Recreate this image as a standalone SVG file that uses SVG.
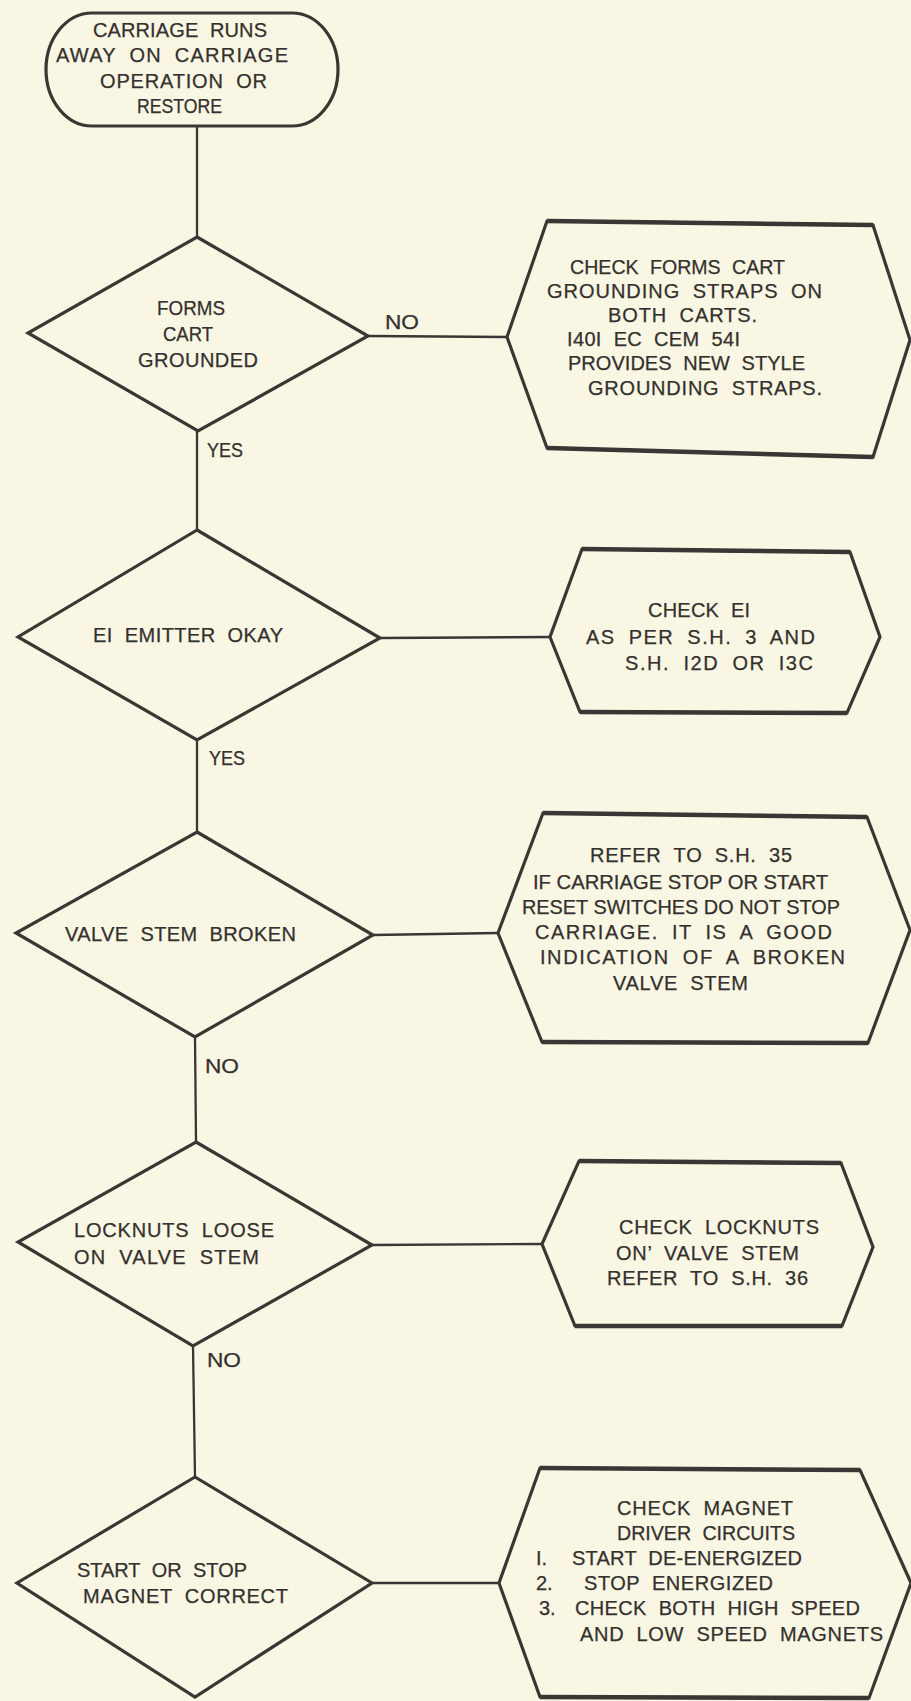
<svg xmlns="http://www.w3.org/2000/svg" width="911" height="1701" viewBox="0 0 911 1701">
<style>
.bg{fill:#f9f6e4}
.shape{fill:none;stroke:#3a3633;stroke-width:3.2;stroke-linejoin:miter}
.edge{fill:none;stroke:#3a3633;stroke-width:4.5;stroke-linecap:butt}
.conn{fill:none;stroke:#3a3633;stroke-width:2.3}
text{font-family:"Liberation Sans",Arial,sans-serif;font-size:20px;fill:#34302d;stroke:#34302d;stroke-width:0.25;word-spacing:6px}
.tight{word-spacing:0}
</style>
<rect class="bg" x="0" y="0" width="911" height="1701"/>
<g id="connectors">
<line class="conn" x1="197" y1="126" x2="197" y2="237"/>
<line class="conn" x1="368" y1="336" x2="507" y2="337"/>
<line class="conn" x1="197" y1="431" x2="197" y2="530"/>
<line class="conn" x1="380" y1="638" x2="550" y2="637"/>
<line class="conn" x1="197" y1="740" x2="197" y2="832"/>
<line class="conn" x1="373" y1="935" x2="498" y2="933"/>
<line class="conn" x1="195" y1="1037" x2="196" y2="1142"/>
<line class="conn" x1="372" y1="1245" x2="542" y2="1244"/>
<line class="conn" x1="193" y1="1346" x2="195" y2="1477"/>
<line class="conn" x1="372" y1="1583" x2="499" y2="1583"/>
<text x="385" y="329" textLength="34" lengthAdjust="spacingAndGlyphs">NO</text>
<text x="207" y="457" textLength="36" lengthAdjust="spacingAndGlyphs">YES</text>
<text x="209" y="765" textLength="36" lengthAdjust="spacingAndGlyphs">YES</text>
<text x="205" y="1073" textLength="34" lengthAdjust="spacingAndGlyphs">NO</text>
<text x="207" y="1367" textLength="34" lengthAdjust="spacingAndGlyphs">NO</text>
</g>
<g id="start">
<path class="shape" d="M92,13 L292,13 A46,56.5 0 0 1 292,126 L92,126 A46,56.5 0 0 1 92,13 Z"/>
<text x="93" y="37" textLength="174" lengthAdjust="spacing">CARRIAGE RUNS</text>
<text x="56" y="62" textLength="232" lengthAdjust="spacing">AWAY ON CARRIAGE</text>
<text x="100" y="88" textLength="167" lengthAdjust="spacing">OPERATION OR</text>
<text x="137" y="113" textLength="85" lengthAdjust="spacingAndGlyphs">RESTORE</text>
</g>
<g id="d1">
<polygon class="shape" points="197,237 368,336 198,431 28,333"/>
<text x="157" y="315" textLength="68" lengthAdjust="spacingAndGlyphs">FORMS</text>
<text x="163" y="341" textLength="50" lengthAdjust="spacingAndGlyphs">CART</text>
<text x="138" y="367" textLength="120" lengthAdjust="spacing">GROUNDED</text>
</g>
<g id="h1">
<polygon class="shape" points="547,221 873,225 910,340 873,457 547,448 507,337"/>
<line class="edge" x1="547" y1="221" x2="873" y2="225"/>
<line class="edge" x1="547" y1="448" x2="873" y2="457"/>
<text x="570" y="274" textLength="215" lengthAdjust="spacingAndGlyphs">CHECK FORMS CART</text>
<text x="547" y="298" textLength="275" lengthAdjust="spacing">GROUNDING STRAPS ON</text>
<text x="608" y="322" textLength="149" lengthAdjust="spacing">BOTH CARTS.</text>
<text x="567" y="346" textLength="173" lengthAdjust="spacing">I40I EC CEM 54I</text>
<text x="568" y="370" textLength="237" lengthAdjust="spacing">PROVIDES NEW STYLE</text>
<text x="588" y="395" textLength="234" lengthAdjust="spacing">GROUNDING STRAPS.</text>
</g>
<g id="d2">
<polygon class="shape" points="197,530 380,638 197,740 18,637"/>
<text x="93" y="642" textLength="190" lengthAdjust="spacing">EI EMITTER OKAY</text>
</g>
<g id="h2">
<polygon class="shape" points="582,549 850,552 880,637 847,713 580,712 550,637"/>
<line class="edge" x1="582" y1="549" x2="850" y2="552"/>
<line class="edge" x1="580" y1="712" x2="847" y2="713"/>
<text x="648" y="617" textLength="102" lengthAdjust="spacing">CHECK EI</text>
<text x="586" y="644" textLength="229" lengthAdjust="spacing">AS PER S.H. 3 AND</text>
<text x="625" y="670" textLength="188" lengthAdjust="spacing">S.H. I2D OR I3C</text>
</g>
<g id="d3">
<polygon class="shape" points="197,832 373,935 195,1037 16,933"/>
<text x="65" y="941" textLength="231" lengthAdjust="spacing">VALVE STEM BROKEN</text>
</g>
<g id="h3">
<polygon class="shape" points="543,813 867,817 910,930 868,1043 542,1042 498,933"/>
<line class="edge" x1="543" y1="813" x2="867" y2="817"/>
<line class="edge" x1="542" y1="1042" x2="868" y2="1043"/>
<text x="590" y="862" textLength="202" lengthAdjust="spacing">REFER TO S.H. 35</text>
<text class="tight" x="533" y="889" textLength="295" lengthAdjust="spacingAndGlyphs">IF CARRIAGE STOP OR START</text>
<text class="tight" x="522" y="914" textLength="318" lengthAdjust="spacingAndGlyphs">RESET SWITCHES DO NOT STOP</text>
<text x="535" y="939" textLength="297" lengthAdjust="spacing">CARRIAGE. IT IS A GOOD</text>
<text x="540" y="964" textLength="305" lengthAdjust="spacing">INDICATION OF A BROKEN</text>
<text x="613" y="990" textLength="135" lengthAdjust="spacing">VALVE STEM</text>
</g>
<g id="d4">
<polygon class="shape" points="196,1142 372,1245 193,1346 18,1242"/>
<text x="74" y="1237" textLength="200" lengthAdjust="spacing">LOCKNUTS LOOSE</text>
<text x="74" y="1264" textLength="185" lengthAdjust="spacing">ON VALVE STEM</text>
</g>
<g id="h4">
<polygon class="shape" points="579,1161 841,1163 873,1247 842,1326 575,1326 542,1244"/>
<line class="edge" x1="579" y1="1161" x2="841" y2="1163"/>
<line class="edge" x1="575" y1="1326" x2="842" y2="1326"/>
<text x="619" y="1234" textLength="200" lengthAdjust="spacing">CHECK LOCKNUTS</text>
<text x="616" y="1260" textLength="183" lengthAdjust="spacing">ON’ VALVE STEM</text>
<text x="607" y="1285" textLength="201" lengthAdjust="spacing">REFER TO S.H. 36</text>
</g>
<g id="d5">
<polygon class="shape" points="195,1477 372,1583 195,1697 17,1583"/>
<text x="77" y="1577" textLength="170" lengthAdjust="spacingAndGlyphs">START OR STOP</text>
<text x="83" y="1603" textLength="205" lengthAdjust="spacing">MAGNET CORRECT</text>
</g>
<g id="h5">
<polygon class="shape" points="540,1468 860,1470 911,1583 869,1698 540,1697 499,1583"/>
<line class="edge" x1="540" y1="1468" x2="860" y2="1470"/>
<line class="edge" x1="540" y1="1697" x2="869" y2="1698"/>
<text x="617" y="1515" textLength="176" lengthAdjust="spacing">CHECK MAGNET</text>
<text x="617" y="1540" textLength="178" lengthAdjust="spacingAndGlyphs">DRIVER CIRCUITS</text>
<text x="536" y="1565">I.</text>
<text x="572" y="1565" textLength="230" lengthAdjust="spacing">START DE-ENERGIZED</text>
<text x="536" y="1590">2.</text>
<text x="584" y="1590" textLength="189" lengthAdjust="spacing">STOP ENERGIZED</text>
<text x="539" y="1615">3.</text>
<text x="575" y="1615" textLength="285" lengthAdjust="spacing">CHECK BOTH HIGH SPEED</text>
<text x="580" y="1641" textLength="303" lengthAdjust="spacing">AND LOW SPEED MAGNETS</text>
</g>
</svg>
